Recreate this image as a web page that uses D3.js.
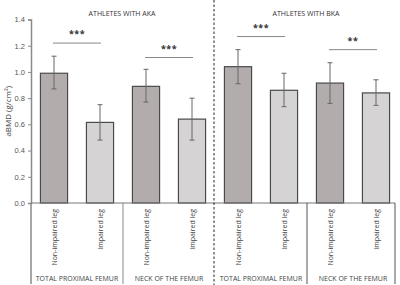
<!DOCTYPE html>
<html>
<head>
<meta charset="utf-8">
<script src="https://cdn.jsdelivr.net/npm/d3@7"></script>
<style>
  body { margin: 0; background: #fff; }
  svg { display: block; font-family: "Open Sans", "DejaVu Sans", sans-serif; }
</style>
</head>
<body>
<svg id="chart" width="400" height="285"></svg>
<script>
// bar order: AKA (TPF non-imp, TPF imp, NF non-imp, NF imp), BKA (same)
const panels = ["ATHLETES WITH AKA", "ATHLETES WITH BKA"];
const sites = ["TOTAL PROXIMAL FEMUR", "NECK OF THE FEMUR"];
const legs = ["Non-impaired leg", "Impaired leg"];
const means = [0.99, 0.615, 0.89, 0.64, 1.04, 0.86, 0.915, 0.84];
const errUp = [1.12, 0.75, 1.02, 0.80, 1.17, 0.99, 1.07, 0.94];
const errLo = [0.87, 0.48, 0.77, 0.48, 0.91, 0.735, 0.76, 0.745];
const sigLabels = ["***", "***", "***", "**"];
const sigLevels = [1.22, 1.11, 1.27, 1.17];
const yTicks = [0, 0.2, 0.4, 0.6, 0.8, 1.0, 1.2, 1.4];

const svg = d3.select("#chart");
const plotTop = 19.5, plotBottom = 203;

const bars = means.map((m, i) => ({
    id: i,
    panel: Math.floor(i / 4),
    site: Math.floor(i / 2) % 2,
    leg: i % 2,
    mean: m,
    up: errUp[i],
    lo: errLo[i]
}));

const x = d3.scaleBand()
    .domain(bars.map(d => d.id))
    .range([31, 399])
    .paddingInner(0.41)
    .paddingOuter(0.205);

const y = d3.scaleLinear()
    .domain([0, 1.4])
    .range([plotBottom, plotTop]);

// y axis
const yAxis = svg.append("g")
    .attr("transform", "translate(31,0)")
    .call(d3.axisLeft(y).tickValues(yTicks).tickFormat(d3.format(".1f")).tickSize(3));
yAxis.select(".domain").attr("stroke", "#8a8a8a").attr("stroke-width", 1.5);
yAxis.selectAll(".tick line").attr("stroke", "#8a8a8a");
yAxis.selectAll("text")
    .attr("fill", "#555")
    .style("font-size", "7.5px")
    .attr("x", -6);

svg.append("text")
    .attr("transform", "translate(11," + ((plotTop + plotBottom) / 2) + ")rotate(-90)")
    .attr("text-anchor", "middle")
    .attr("fill", "#444")
    .style("font-size", "8px")
    .text("aBMD (g/cm²)");

// bars
svg.selectAll(".bar")
    .data(bars)
    .join("rect")
        .attr("class", "bar")
        .attr("x", d => x(d.id))
        .attr("y", d => y(d.mean))
        .attr("width", x.bandwidth())
        .attr("height", d => y(0) - y(d.mean))
        .attr("fill", d => d.leg == 0 ? "#b2acad" : "#d5d3d4")
        .attr("stroke", "#4a4a4a")
        .attr("stroke-width", 1.2);

// error bars
const eb = svg.selectAll(".err")
    .data(bars)
    .join("g")
        .attr("class", "err")
        .attr("stroke", "#666")
        .attr("stroke-width", 1);
eb.append("line")
    .attr("x1", d => x(d.id) + x.bandwidth() / 2)
    .attr("x2", d => x(d.id) + x.bandwidth() / 2)
    .attr("y1", d => y(d.up))
    .attr("y2", d => y(d.lo));
eb.selectAll(".cap")
    .data(d => [d.up, d.lo].map(v => ({id: d.id, v: v})))
    .join("line")
        .attr("class", "cap")
        .attr("x1", d => x(d.id) + x.bandwidth() / 2 - 2.5)
        .attr("x2", d => x(d.id) + x.bandwidth() / 2 + 2.5)
        .attr("y1", d => y(d.v))
        .attr("y2", d => y(d.v));

// x axis baseline
svg.append("line")
    .attr("x1", 31).attr("x2", 395)
    .attr("y1", y(0)).attr("y2", y(0))
    .attr("stroke", "#777").attr("stroke-width", 1.2);

// significance lines
const pairs = sigLabels.map((s, i) => ({
    a: i * 2, b: i * 2 + 1, label: s, level: sigLevels[i]
}));
svg.selectAll(".sig")
    .data(pairs)
    .join("line")
        .attr("class", "sig")
        .attr("x1", d => x(d.a) + x.bandwidth() / 2 - 1)
        .attr("x2", d => x(d.b) + x.bandwidth() / 2 + 1)
        .attr("y1", d => y(d.level))
        .attr("y2", d => y(d.level))
        .attr("stroke", "#888")
        .attr("stroke-width", 1);
svg.selectAll(".sigtxt")
    .data(pairs)
    .join("text")
        .attr("class", "sigtxt")
        .attr("x", d => (x(d.a) + x(d.b) + x.bandwidth()) / 2)
        .attr("y", d => y(d.level) - 6)
        .attr("text-anchor", "middle")
        .attr("fill", "#333")
        .style("font-size", "9px")
        .style("font-weight", "bold")
        .style("letter-spacing", "0.5px")
        .text(d => d.label);

// leg labels (rotated)
svg.selectAll(".leg")
    .data(bars)
    .join("text")
        .attr("class", "leg")
        .attr("transform", d => "translate(" + (x(d.id) + x.bandwidth() / 2 + 2.5) + "," + (y(0) + 6) + ")rotate(-90)")
        .attr("text-anchor", "end")
        .attr("fill", "#444")
        .style("font-size", "7px")
        .text(d => legs[d.leg]);

// group dividers below the axis
const step = x.step();
const x0 = x.range()[0];
[0, 2, 6].forEach(k => {
    svg.append("line")
        .attr("x1", x0 + k * step).attr("x2", x0 + k * step)
        .attr("y1", y(0)).attr("y2", 284)
        .attr("stroke", k < 4 ? "#8a8a8a" : "#555")
        .attr("stroke-width", k == 0 ? 1.5 : 1);
});
svg.append("line")
    .attr("x1", 395).attr("x2", 395)
    .attr("y1", y(0)).attr("y2", 284)
    .attr("stroke", "#555").attr("stroke-width", 1);

// site labels
const groups = [0, 1, 2, 3].map(g => ({
    panel: Math.floor(g / 2),
    site: g % 2,
    cx: x0 + (g * 2 + 1) * step
}));
svg.selectAll(".site")
    .data(groups)
    .join("text")
        .attr("class", "site")
        .attr("x", d => d.cx)
        .attr("y", 280.5)
        .attr("text-anchor", "middle")
        .attr("fill", "#444")
        .style("font-size", "7px")
        .text(d => sites[d.site]);

// panel titles
svg.selectAll(".panel")
    .data(panels)
    .join("text")
        .attr("class", "panel")
        .attr("x", (d, i) => x0 + (i * 4 + 2) * step - 1)
        .attr("y", 16)
        .attr("text-anchor", "middle")
        .attr("fill", "#333")
        .style("font-size", "7px")
        .text(d => d);

// dashed separator between panels
svg.append("line")
    .attr("x1", x0 + 4 * step - 1).attr("x2", x0 + 4 * step - 1)
    .attr("y1", 0).attr("y2", 285)
    .attr("stroke", "#222")
    .attr("stroke-width", 1)
    .attr("stroke-dasharray", "2.5,2");
</script>
</body>
</html>
